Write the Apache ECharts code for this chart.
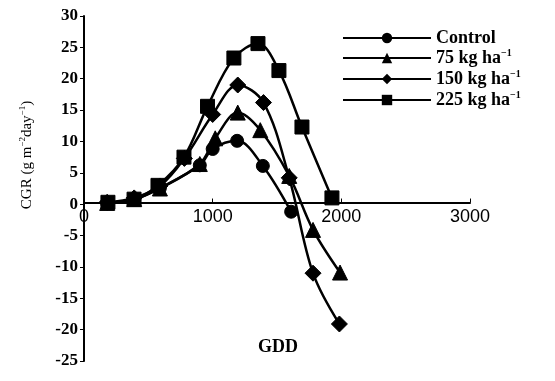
<!DOCTYPE html>
<html>
<head>
<meta charset="utf-8">
<script src="https://cdn.jsdelivr.net/npm/echarts@6/dist/echarts.min.js"></script>
<style>
html,body{margin:0;padding:0;background:#fff;}
#c{width:555px;height:381px;}
</style>
</head>
<body>
<div id="c"></div>
<script>
const seriesNames = ['Control', '75 kg ha', '150 kg ha', '225 kg ha'];
const gddControl = [180, 390, 590, 900, 1000, 1190, 1390, 1610];
const cgrControl = [0.2, 0.7, 2.6, 6.2, 8.8, 10.1, 6.1, -1.2];
const gdd75 = [180, 390, 590, 900, 1020, 1195, 1370, 1595, 1780, 1990];
const cgr75 = [0.2, 0.8, 2.5, 6.4, 10.5, 14.6, 11.8, 4.5, -4.1, -10.9];
const gdd150 = [180, 390, 590, 780, 1000, 1195, 1395, 1595, 1780, 1985];
const cgr150 = [0.3, 1.0, 2.9, 7.3, 14.3, 19.0, 16.2, 4.2, -11.0, -19.1];
const gdd225 = [186, 389, 575, 777, 960, 1165, 1352, 1515, 1694, 1927];
const cgr225 = [0.3, 0.8, 3.0, 7.5, 15.6, 23.3, 25.6, 21.3, 12.3, 1.0];
const xTicks = [0, 1000, 2000, 3000];
const yTicks = [-25, -20, -15, -10, -5, 0, 5, 10, 15, 20, 25, 30];

function pairs(xs, ys) { return xs.map((x, i) => [x, ys[i]]); }

const symbols = ['circle', 'triangle', 'diamond', 'rect'];
const symSizes = [13, 15, 16, 14];
const allData = [pairs(gddControl, cgrControl), pairs(gdd75, cgr75), pairs(gdd150, cgr150), pairs(gdd225, cgr225)];

const H = 381, gridBottom = 20;
const chart = echarts.init(document.getElementById('c'), null, {renderer: 'canvas'});
chart.setOption({
  animation: false,
  backgroundColor: '#fff',
  grid: {left: 84, right: 85, top: 16, bottom: gridBottom, containLabel: false},
  legend: {
    orient: 'vertical',
    left: 337, top: 24,
    itemWidth: 88, itemHeight: 13, itemGap: 1,
    data: seriesNames,
    formatter: function (name) {
      return name === 'Control' ? '{t|' + name + '}' : '{t|' + name + '}{s|\u22121}';
    },
    textStyle: {
      color: '#000',
      rich: {
        t: {fontFamily: 'Liberation Serif', fontWeight: 'bold', fontSize: 18, lineHeight: 20, color: '#000'},
        s: {fontFamily: 'Liberation Serif', fontWeight: 'bold', fontSize: 10, lineHeight: 20, color: '#000', verticalAlign: 'top', padding: [0, 0, 10, 0]}
      }
    }
  },
  xAxis: {
    type: 'value', min: xTicks[0], max: xTicks[xTicks.length - 1], interval: 1000,
    axisLine: {onZero: false, lineStyle: {color: '#000', width: 2}},
    axisTick: {show: true, inside: true, length: 4, lineStyle: {color: '#000', width: 1}},
    splitLine: {show: false},
    axisLabel: {color: '#000', fontFamily: 'Liberation Sans', fontSize: 18, margin: 5,
      formatter: function (v) { return String(v); }}
  },
  yAxis: {
    type: 'value', min: yTicks[0], max: yTicks[yTicks.length - 1], interval: 5,
    axisLine: {onZero: false, lineStyle: {color: '#000', width: 2}},
    axisTick: {show: true, length: 4, lineStyle: {color: '#000', width: 1}},
    splitLine: {show: false},
    axisLabel: {color: '#000', fontFamily: 'Liberation Serif', fontWeight: 'bold', fontSize: 17, margin: 6,
      formatter: function (v) { return String(v); }}
  },
  graphic: [
    {
      type: 'text', x: 27, y: 155, rotation: Math.PI / 2,
      style: {
        text: '{a|CGR (g m}{s|\u22122}{a|day}{s|\u22121}{a|)}',
        align: 'center', verticalAlign: 'middle', fill: '#000',
        rich: {
          a: {fontFamily: 'Liberation Serif', fontSize: 15, fill: '#000'},
          s: {fontFamily: 'Liberation Serif', fontSize: 9, fill: '#000', verticalAlign: 'top', padding: [0, 0, 8, 0]}
        }
      }
    },
    {
      type: 'text', x: 278, y: 347,
      style: {text: 'GDD', align: 'center', verticalAlign: 'middle', fill: '#000',
        font: 'bold 18px "Liberation Serif"'}
    }
  ],
  series: seriesNames.map((n, i) => ({
    name: n, type: 'line', data: allData[i], smooth: 0.35,
    symbol: symbols[i], symbolSize: symSizes[i], showAllSymbol: true,
    lineStyle: {color: '#000', width: 2.5},
    itemStyle: {color: '#000', borderColor: '#000'},
    z: 2 + i
  }))
});
// place the x axis on the y = 0 line
const zeroY = chart.convertToPixel({yAxisIndex: 0}, 0);
const bottomY = H - gridBottom;
chart.setOption({xAxis: {offset: -(bottomY - zeroY)}});
</script>
</body>
</html>
